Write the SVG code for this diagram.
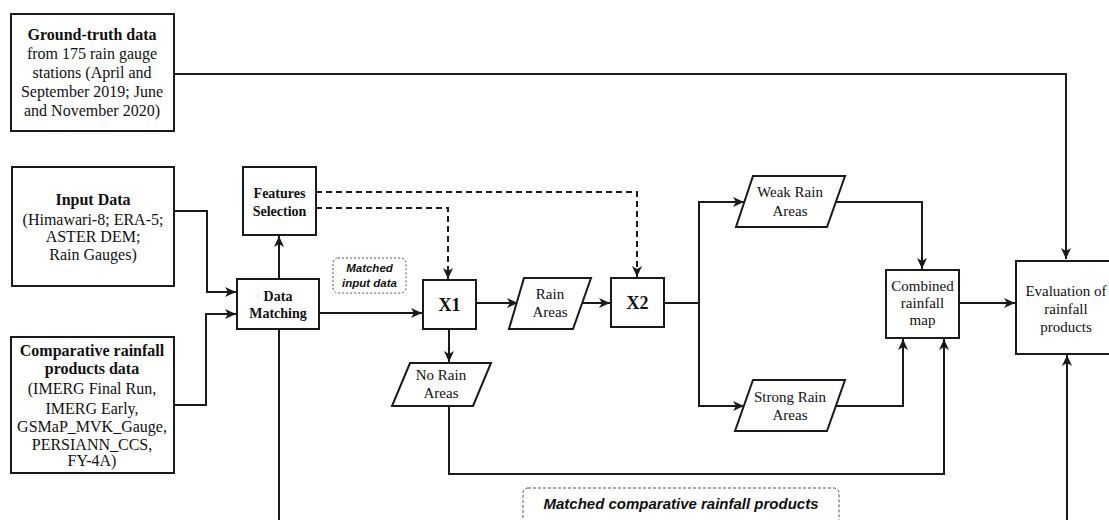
<svg xmlns="http://www.w3.org/2000/svg" width="1109" height="520" viewBox="0 0 1109 520">
<style>
.box{fill:#fff;stroke:#1a1a1a;stroke-width:2}
.t{font-family:"Liberation Serif","Times New Roman",serif;fill:#111;text-anchor:middle}
.b{font-weight:bold}
.big{font-size:16px}
.sm{font-size:15px}
.fs{font-size:14px}
.c{fill:none;stroke:#1a1a1a;stroke-width:2}
.d{stroke-dasharray:6 4}
.lbl{font-family:"Liberation Sans",Arial,sans-serif;font-weight:bold;font-style:italic;fill:#111;text-anchor:middle}
</style>
<defs>
<marker id="ah" markerUnits="userSpaceOnUse" markerWidth="12" markerHeight="10" refX="11" refY="5" orient="auto">
<path d="M0,0 L11,5 L0,10 L3,5 z" fill="#1a1a1a"/>
</marker>
</defs>
<rect width="1109" height="520" fill="#fff"/>
<g id="connectors">
<path class="c" d="M174,74 H1066 V259" marker-end="url(#ah)"/>
<path class="c" d="M174,211 H207 V292 H236" marker-end="url(#ah)"/>
<path class="c" d="M174,405 H206 V314 H236" marker-end="url(#ah)"/>
<path class="c" d="M279,279 V236" marker-end="url(#ah)"/>
<path class="c" d="M279,329 V520"/>
<path class="c d" d="M316,192 H637 V277" marker-end="url(#ah)"/>
<path class="c d" d="M316,208 H448 V279" marker-end="url(#ah)"/>
<path class="c" d="M319,313 H422" marker-end="url(#ah)"/>
<path class="c" d="M476,303 H518" marker-end="url(#ah)"/>
<path class="c" d="M583,303 H610" marker-end="url(#ah)"/>
<path class="c" d="M664,303 H699"/>
<path class="c" d="M699,406 V202 H744" marker-end="url(#ah)"/>
<path class="c" d="M699,303 V406 H744" marker-end="url(#ah)"/>
<path class="c" d="M836,202 H922 V269" marker-end="url(#ah)"/>
<path class="c" d="M836,406 H903 V339" marker-end="url(#ah)"/>
<path class="c" d="M449,329 V362" marker-end="url(#ah)"/>
<path class="c" d="M449,406 V474 H944 V339" marker-end="url(#ah)"/>
<path class="c" d="M959,303 H1015" marker-end="url(#ah)"/>
<path class="c" d="M1067,520 V355" marker-end="url(#ah)"/>
</g>
<g id="ground-truth">
<rect class="box" x="11" y="14" width="163" height="117"/>
<text class="t big"><tspan class="b" x="92" y="40">Ground-truth data</tspan><tspan x="92" y="59">from 175 rain gauge</tspan><tspan x="92" y="78">stations (April and</tspan><tspan x="92" y="97">September 2019; June</tspan><tspan x="92" y="116">and November 2020)</tspan></text>
</g>
<g id="input-data">
<rect class="box" x="12" y="167" width="162" height="119"/>
<text class="t big"><tspan class="b" x="93" y="205">Input Data</tspan><tspan x="93" y="225">(Himawari-8; ERA-5;</tspan><tspan x="93" y="242">ASTER DEM;</tspan><tspan x="93" y="260">Rain Gauges)</tspan></text>
</g>
<g id="comparative">
<rect class="box" x="11" y="337" width="163" height="136"/>
<text class="t big"><tspan class="b" x="92" y="356">Comparative rainfall</tspan><tspan class="b" x="92" y="374">products data</tspan><tspan x="92" y="394">(IMERG Final Run,</tspan><tspan x="92" y="414">IMERG Early,</tspan><tspan x="92" y="432">GSMaP_MVK_Gauge,</tspan><tspan x="92" y="450">PERSIANN_CCS,</tspan><tspan x="92" y="466">FY-4A)</tspan></text>
</g>
<g id="features-selection">
<rect class="box" x="243" y="167" width="73" height="68"/>
<text class="t fs b"><tspan x="279.5" y="198">Features</tspan><tspan x="279.5" y="216">Selection</tspan></text>
</g>
<g id="data-matching">
<rect class="box" x="237" y="279" width="82" height="50"/>
<text class="t fs b"><tspan x="278" y="301">Data</tspan><tspan x="278" y="318">Matching</tspan></text>
</g>
<g id="matched-input">
<rect x="333" y="258" width="73" height="35" rx="5" fill="#fff" stroke="#555" stroke-width="1" stroke-dasharray="2 2"/>
<text class="lbl" font-size="11.5"><tspan x="369.5" y="272">Matched</tspan><tspan x="369.5" y="287">input data</tspan></text>
</g>
<g id="x1">
<rect class="box" x="423" y="280" width="53" height="49"/>
<text class="t b" font-size="18" x="449.5" y="311">X1</text>
</g>
<g id="rain-areas">
<polygon class="box" points="524,278 591,278 573,329 509,329"/>
<text class="t sm"><tspan x="550" y="299">Rain</tspan><tspan x="550" y="317">Areas</tspan></text>
</g>
<g id="x2">
<rect class="box" x="611" y="278" width="53" height="49"/>
<text class="t b" font-size="18" x="637.5" y="309">X2</text>
</g>
<g id="no-rain">
<polygon class="box" points="410,363 491,363 473,406 392,406"/>
<text class="t sm"><tspan x="441" y="380">No Rain</tspan><tspan x="441" y="398">Areas</tspan></text>
</g>
<g id="weak-rain">
<polygon class="box" points="753,176 845,176 827,227 736,227"/>
<text class="t sm"><tspan x="790" y="197">Weak Rain</tspan><tspan x="790" y="216">Areas</tspan></text>
</g>
<g id="strong-rain">
<polygon class="box" points="753,380 845,380 827,431 735,431"/>
<text class="t sm"><tspan x="790" y="402">Strong Rain</tspan><tspan x="790" y="420">Areas</tspan></text>
</g>
<g id="combined">
<rect class="box" x="886" y="270" width="73" height="68"/>
<text class="t sm"><tspan x="922.5" y="291">Combined</tspan><tspan x="922.5" y="308">rainfall</tspan><tspan x="922.5" y="325">map</tspan></text>
</g>
<g id="evaluation">
<rect class="box" x="1016" y="261" width="98" height="93"/>
<text class="t sm"><tspan x="1066" y="296">Evaluation of</tspan><tspan x="1066" y="314">rainfall</tspan><tspan x="1066" y="332">products</tspan></text>
</g>
<g id="matched-comparative">
<rect x="523" y="488" width="316" height="40" rx="5" fill="#fff" stroke="#555" stroke-width="1" stroke-dasharray="3 2"/>
<text class="lbl" font-size="15" x="681" y="509">Matched comparative rainfall products</text>
</g>
</svg>
